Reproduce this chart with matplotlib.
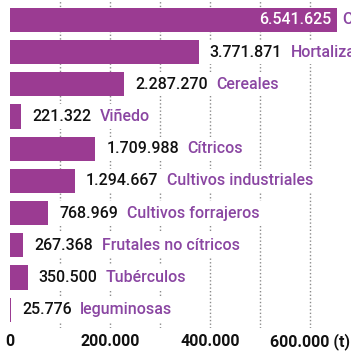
import matplotlib
matplotlib.use("Agg")
import matplotlib.pyplot as plt
from matplotlib.patches import Rectangle

# Data (toneladas)
categories = ["Olivar", "Hortalizas", "Cereales", "Viñedo", "Cítricos",
              "Cultivos industriales", "Cultivos forrajeros",
              "Frutales no cítricos", "Tubérculos", "leguminosas"]
values = [6541625, 3771871, 2287270, 221322, 1709988,
          1294667, 768969, 267368, 350500, 25776]
tick_pos = [0, 2000000, 4000000, 6000000]
tick_labels = ["0", "200.000", "400.000", "600.000 (t)"]
grid_pos = [1000000, 2000000, 3000000, 4000000, 5000000, 6000000]

bar_color = "#9b3b92"
cat_color = "#8a46a2"
bar_h = 0.75

plt.rcParams["font.family"] = ["Roboto", "DejaVu Sans"]

fig = plt.figure(figsize=(3.51, 3.51), dpi=100)
ax = fig.add_axes([10 / 351, 23 / 351, 341 / 351, 328 / 351])

ypos = list(range(len(values)))
ax.barh(ypos, values, height=bar_h, color=bar_color, zorder=2)
ax.set_ylim(9.57, -0.62)
ax.set_xlim(0, 6820000)

for x in grid_pos:
    ax.axvline(x, color="#8c8c8c", lw=1, linestyle=(0, (1, 1.6)), zorder=1)

cat_texts = []
for i, (v, cat) in enumerate(zip(values, categories)):
    label = f"{v:,}".replace(",", ".")
    if i == 0:
        ax.annotate(label, xy=(v, i), xytext=(-4, 0), textcoords="offset points",
                    ha="right", va="center", color="white", fontsize=11.5,
                    fontweight="medium", zorder=3)
        ax.annotate(cat, xy=(v, i), xytext=(4, 0), textcoords="offset points",
                    ha="left", va="center", color=cat_color, fontsize=11.5,
                    fontweight="medium", annotation_clip=False)
    else:
        t = ax.annotate(label, xy=(v, i), xytext=(8, 0), textcoords="offset points",
                        ha="left", va="center", color="#111111", fontsize=11.5,
                        fontweight="medium", zorder=3)
        c = ax.annotate(cat, xy=(1, 0.5), xycoords=t, xytext=(6, 0),
                        textcoords="offset points", ha="left", va="center",
                        color=cat_color, fontsize=11.5, fontweight="medium", zorder=3)
        cat_texts.append((i, v, c))

# white band behind the labels hides the dotted grid in those rows
fig.canvas.draw()
renderer = fig.canvas.get_renderer()
inv = ax.transData.inverted()
for i, v, c in cat_texts:
    bb = c.get_window_extent(renderer)
    x_end = inv.transform((bb.x1 + 3, 0))[0]
    ax.add_patch(Rectangle((v, i - bar_h / 2), x_end - v, bar_h,
                           facecolor="white", edgecolor="none", zorder=1.5))

ax.set_xticks(tick_pos)
ax.set_xticklabels(tick_labels, fontsize=11.5, fontweight="bold", color="#111111")
ax.tick_params(axis="x", length=0, pad=4)
ax.set_yticks([])
for s in ax.spines.values():
    s.set_visible(False)

fig.savefig("out.png", dpi=100)
